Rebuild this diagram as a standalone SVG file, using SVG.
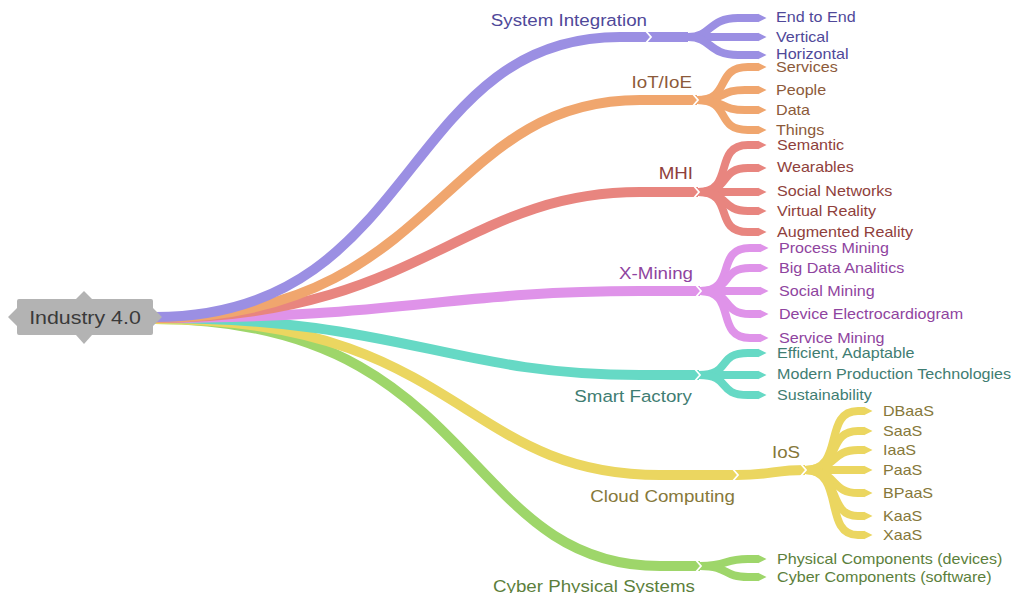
<svg xmlns="http://www.w3.org/2000/svg" width="1017" height="593" viewBox="0 0 1017 593">
<style>
text{font-family:"Liberation Sans",Arial,sans-serif}
.lf{font-size:14px}
.lb{font-size:16.3px;text-anchor:end}
.e{fill:none;stroke-linecap:butt}
.m{stroke-width:10}
.s{stroke-width:8}
.n{fill:none;stroke:#fff;stroke-width:1.8}
.cSI{stroke:#9b8fe3}.tSI{fill:#4f4899}
.cIO{stroke:#f0a66e}.tIO{fill:#8c5a3a}
.cMH{stroke:#e8857f}.tMH{fill:#8f3f3c}
.cXM{stroke:#df93e9}.tXM{fill:#8f44a0}
.cSF{stroke:#66d9c5}.tSF{fill:#3f7d72}
.cCC{stroke:#ebd660}.tCC{fill:#86783a}
.cCP{stroke:#9ed66a}.tCP{fill:#5c7f3c}
</style>
<defs>
<marker id="aSI" viewBox="0 -5 10 10" refX="0.5" refY="0" markerWidth="10" markerHeight="10" markerUnits="userSpaceOnUse" orient="auto"><path d="M0,-4.5L9,0L0,4.5z" fill="#9b8fe3"/></marker>
<marker id="aIO" viewBox="0 -5 10 10" refX="0.5" refY="0" markerWidth="10" markerHeight="10" markerUnits="userSpaceOnUse" orient="auto"><path d="M0,-4.5L9,0L0,4.5z" fill="#f0a66e"/></marker>
<marker id="aMH" viewBox="0 -5 10 10" refX="0.5" refY="0" markerWidth="10" markerHeight="10" markerUnits="userSpaceOnUse" orient="auto"><path d="M0,-4.5L9,0L0,4.5z" fill="#e8857f"/></marker>
<marker id="aXM" viewBox="0 -5 10 10" refX="0.5" refY="0" markerWidth="10" markerHeight="10" markerUnits="userSpaceOnUse" orient="auto"><path d="M0,-4.5L9,0L0,4.5z" fill="#df93e9"/></marker>
<marker id="aSF" viewBox="0 -5 10 10" refX="0.5" refY="0" markerWidth="10" markerHeight="10" markerUnits="userSpaceOnUse" orient="auto"><path d="M0,-4.5L9,0L0,4.5z" fill="#66d9c5"/></marker>
<marker id="aCC" viewBox="0 -5 10 10" refX="0.5" refY="0" markerWidth="10" markerHeight="10" markerUnits="userSpaceOnUse" orient="auto"><path d="M0,-4.5L9,0L0,4.5z" fill="#ebd660"/></marker>
<marker id="aCP" viewBox="0 -5 10 10" refX="0.5" refY="0" markerWidth="10" markerHeight="10" markerUnits="userSpaceOnUse" orient="auto"><path d="M0,-4.5L9,0L0,4.5z" fill="#9ed66a"/></marker>
</defs>
<rect width="1017" height="593" fill="#fff"/>
<g id="connectors">
<!-- main edges -->
<path class="e m cCP" d="M155,319 C480,319 460,566 660,566 L700,566"/>
<path class="e m cCC" d="M155,319 C460,319 460,475 660,475 L737,475"/>
<path class="e m cSF" d="M155,318 C400,318 450,375 640,375 L699,375"/>
<path class="e m cXM" d="M155,318 C400,318 450,291 640,291 L700,291"/>
<path class="e m cMH" d="M155,318 C420,318 460,192 640,192 L698,192"/>
<path class="e m cIO" d="M155,318 C440,318 440,100 640,100 L697,100"/>
<path class="e m cSI" d="M155,317 C420,317 400,37 620,37 L650,37"/>
<!-- System Integration subs -->
<path class="e m cSI" d="M650,37 L688,37"/>
<path class="e s cSI" marker-end="url(#aSI)" d="M650,37 L688,37 C712,37 708,18 738,18 L758,18"/>
<path class="e s cSI" marker-end="url(#aSI)" d="M650,37 L758,37"/>
<path class="e s cSI" marker-end="url(#aSI)" d="M650,37 L688,37 C712,37 708,55 738,55 L758,55"/>
<!-- IoT subs -->
<path class="e s cIO" marker-end="url(#aIO)" d="M697,100 C732,100 714,67 748,67 L758,67"/>
<path class="e s cIO" marker-end="url(#aIO)" d="M697,100 C725,100 720,90 745,90 L758,90"/>
<path class="e s cIO" marker-end="url(#aIO)" d="M697,100 C725,100 720,110 745,110 L758,110"/>
<path class="e s cIO" marker-end="url(#aIO)" d="M697,100 C732,100 714,130 748,130 L758,130"/>
<!-- MHI subs -->
<path class="e s cMH" marker-end="url(#aMH)" d="M698,192 C736,192 712,145 748,145 L758,145"/>
<path class="e s cMH" marker-end="url(#aMH)" d="M698,192 C732,192 718,168 748,168 L758,168"/>
<path class="e s cMH" marker-end="url(#aMH)" d="M698,192 L758,192"/>
<path class="e s cMH" marker-end="url(#aMH)" d="M698,192 C730,192 720,211 748,211 L758,211"/>
<path class="e s cMH" marker-end="url(#aMH)" d="M698,192 C736,192 712,232 748,232 L758,232"/>
<!-- X-Mining subs -->
<path class="e s cXM" marker-end="url(#aXM)" d="M700,291 C738,291 714,248 750,248 L760,248"/>
<path class="e s cXM" marker-end="url(#aXM)" d="M700,291 C734,291 720,268 750,268 L760,268"/>
<path class="e s cXM" marker-end="url(#aXM)" d="M700,291 L760,291"/>
<path class="e s cXM" marker-end="url(#aXM)" d="M700,291 C734,291 720,314 750,314 L760,314"/>
<path class="e s cXM" marker-end="url(#aXM)" d="M700,291 C738,291 714,338 750,338 L760,338"/>
<!-- Smart Factory subs -->
<path class="e s cSF" marker-end="url(#aSF)" d="M699,375 C732,375 716,353 748,353 L758,353"/>
<path class="e s cSF" marker-end="url(#aSF)" d="M699,375 L758,375"/>
<path class="e s cSF" marker-end="url(#aSF)" d="M699,375 C732,375 716,395 748,395 L758,395"/>
<!-- Cloud subs -->
<path class="e m cCC" d="M737,475 C770,475 775,470 805,470"/>
<path class="e s cCC" marker-end="url(#aCC)" d="M805,470 C846,470 822,411 858,411 L864,411"/>
<path class="e s cCC" marker-end="url(#aCC)" d="M805,470 C842,470 826,431 858,431 L864,431"/>
<path class="e s cCC" marker-end="url(#aCC)" d="M805,470 C838,470 830,450 858,450 L864,450"/>
<path class="e s cCC" marker-end="url(#aCC)" d="M805,470 L864,470"/>
<path class="e s cCC" marker-end="url(#aCC)" d="M805,470 C838,470 830,493 858,493 L864,493"/>
<path class="e s cCC" marker-end="url(#aCC)" d="M805,470 C842,470 826,516 858,516 L864,516"/>
<path class="e s cCC" marker-end="url(#aCC)" d="M805,470 C846,470 822,535 858,535 L864,535"/>
<!-- CPS subs -->
<path class="e s cCP" marker-end="url(#aCP)" d="M700,566 C730,566 722,559 748,559 L758,559"/>
<path class="e s cCP" marker-end="url(#aCP)" d="M700,566 C730,566 722,577 748,577 L758,577"/>
<!-- notches -->
<polyline class="n" points="645,30 651,37 645,44"/>
<polyline class="n" points="692,93 698,100 692,107"/>
<polyline class="n" points="693,185 699,192 693,199"/>
<polyline class="n" points="695,284 701,291 695,298"/>
<polyline class="n" points="694,368 700,375 694,382"/>
<polyline class="n" points="732,468 738,475 732,482"/>
<polyline class="n" points="800,463 806,470 800,477"/>
<polyline class="n" points="695,559 701,566 695,573"/>
</g>
<g id="root">
<path d="M17,301 Q17,299 19,299 L76,299 L84,291 L92,299 L151,299 Q153,299 153,301 L153,308 L162,317 L153,326 L153,333 Q153,335 151,335 L92,335 L84,344 L76,335 L19,335 Q17,335 17,333 L17,326 L8,317 L17,308 Z" fill="#b3b3b3"/>
<text transform="scale(1.15 1)" x="73.9" y="324" font-size="18.6" text-anchor="middle" fill="#3a3a3a">Industry 4.0</text>
</g>
<g id="system-integration"><text class="lb tSI" transform="scale(1.15 1)" x="562.6" y="26">System Integration</text></g>
<g id="end-to-end"><text class="lf tSI" transform="scale(1.15 1)" x="674.8" y="22">End to End</text></g>
<g id="vertical"><text class="lf tSI" transform="scale(1.15 1)" x="674.8" y="42">Vertical</text></g>
<g id="horizontal"><text class="lf tSI" transform="scale(1.15 1)" x="674.8" y="59">Horizontal</text></g>
<g id="iot-ioe"><text class="lb tIO" transform="scale(1.15 1)" x="601.7" y="88">IoT/IoE</text></g>
<g id="services"><text class="lf tIO" transform="scale(1.15 1)" x="674.8" y="72">Services</text></g>
<g id="people"><text class="lf tIO" transform="scale(1.15 1)" x="674.8" y="95">People</text></g>
<g id="data"><text class="lf tIO" transform="scale(1.15 1)" x="674.8" y="115">Data</text></g>
<g id="things"><text class="lf tIO" transform="scale(1.15 1)" x="674.8" y="135">Things</text></g>
<g id="mhi"><text class="lb tMH" transform="scale(1.15 1)" x="602.6" y="179">MHI</text></g>
<g id="semantic"><text class="lf tMH" transform="scale(1.15 1)" x="675.7" y="150">Semantic</text></g>
<g id="wearables"><text class="lf tMH" transform="scale(1.15 1)" x="675.7" y="172">Wearables</text></g>
<g id="social-networks"><text class="lf tMH" transform="scale(1.15 1)" x="675.7" y="196">Social Networks</text></g>
<g id="virtual-reality"><text class="lf tMH" transform="scale(1.15 1)" x="675.7" y="216">Virtual Reality</text></g>
<g id="augmented-reality"><text class="lf tMH" transform="scale(1.15 1)" x="675.7" y="237">Augmented Reality</text></g>
<g id="x-mining"><text class="lb tXM" transform="scale(1.15 1)" x="602.6" y="279">X-Mining</text></g>
<g id="process-mining"><text class="lf tXM" transform="scale(1.15 1)" x="677.4" y="253">Process Mining</text></g>
<g id="big-data"><text class="lf tXM" transform="scale(1.15 1)" x="677.4" y="273">Big Data Analitics</text></g>
<g id="social-mining"><text class="lf tXM" transform="scale(1.15 1)" x="677.4" y="296">Social Mining</text></g>
<g id="device-ecg"><text class="lf tXM" transform="scale(1.15 1)" x="677.4" y="319">Device Electrocardiogram</text></g>
<g id="service-mining"><text class="lf tXM" transform="scale(1.15 1)" x="677.4" y="343">Service Mining</text></g>
<g id="smart-factory"><text class="lb tSF" transform="scale(1.15 1)" x="601.7" y="402">Smart Factory</text></g>
<g id="efficient"><text class="lf tSF" transform="scale(1.15 1)" x="675.7" y="358">Efficient, Adaptable</text></g>
<g id="modern-production"><text class="lf tSF" transform="scale(1.15 1)" x="675.7" y="379">Modern Production Technologies</text></g>
<g id="sustainability"><text class="lf tSF" transform="scale(1.15 1)" x="675.7" y="400">Sustainability</text></g>
<g id="cloud-computing"><text class="lb tCC" transform="scale(1.15 1)" x="639.1" y="502">Cloud Computing</text></g>
<g id="ios"><text class="lb tCC" transform="scale(1.15 1)" x="695.7" y="458">IoS</text></g>
<g id="dbaas"><text class="lf tCC" transform="scale(1.15 1)" x="767.8" y="416">DBaaS</text></g>
<g id="saas"><text class="lf tCC" transform="scale(1.15 1)" x="767.8" y="436">SaaS</text></g>
<g id="iaas"><text class="lf tCC" transform="scale(1.15 1)" x="767.8" y="455">IaaS</text></g>
<g id="paas"><text class="lf tCC" transform="scale(1.15 1)" x="767.8" y="475">PaaS</text></g>
<g id="bpaas"><text class="lf tCC" transform="scale(1.15 1)" x="767.8" y="498">BPaaS</text></g>
<g id="kaas"><text class="lf tCC" transform="scale(1.15 1)" x="767.8" y="521">KaaS</text></g>
<g id="xaas"><text class="lf tCC" transform="scale(1.15 1)" x="767.8" y="540">XaaS</text></g>
<g id="cyber-physical-systems"><text class="lb tCP" transform="scale(1.15 1)" x="604.3" y="592">Cyber Physical Systems</text></g>
<g id="physical-components"><text class="lf tCP" transform="scale(1.15 1)" x="675.7" y="564">Physical Components (devices)</text></g>
<g id="cyber-components"><text class="lf tCP" transform="scale(1.15 1)" x="675.7" y="582">Cyber Components (software)</text></g>
</svg>
